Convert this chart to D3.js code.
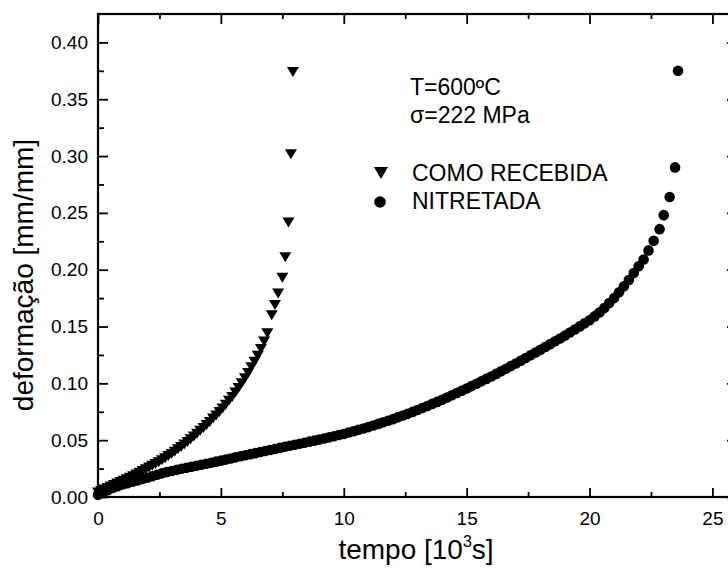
<!DOCTYPE html>
<html>
<head>
<meta charset="utf-8">
<script src="https://cdn.jsdelivr.net/npm/d3@7"></script>
<style>
  body { margin: 0; background: #fff; }
  text { font-family: "Liberation Sans", Arial, sans-serif; fill: #000; }
</style>
</head>
<body>
<div id="chart"></div>
<script>
// tick values
var xTicks = [0, 5, 10, 15, 20, 25];
var xMinor = [2.5, 7.5, 12.5, 17.5, 22.5];
var yTicks = [0.00, 0.05, 0.10, 0.15, 0.20, 0.25, 0.30, 0.35, 0.40];
var yMinor = [0.025, 0.075, 0.125, 0.175, 0.225, 0.275, 0.325, 0.375];

// COMO RECEBIDA (tempo in 10^3 s, deformacao mm/mm)
var recebidaTempo = [0, 0.13, 0.26, 0.39, 0.52, 0.65, 0.78, 0.91, 1.04, 1.17,
  1.30, 1.43, 1.56, 1.69, 1.82, 1.95, 2.08, 2.21, 2.34, 2.47,
  2.60, 2.73, 2.86, 2.99, 3.12, 3.25, 3.38, 3.51, 3.64, 3.77,
  3.90, 4.03, 4.16, 4.29, 4.42, 4.55, 4.68, 4.81, 4.94, 5.07,
  5.20, 5.33, 5.46, 5.59, 5.72, 5.85, 5.98, 6.11, 6.24, 6.37,
  6.50, 6.63, 6.76, 6.89, 7.07, 7.20, 7.33, 7.50, 7.62, 7.75,
  7.85, 7.93];
var recebidaDef = [0.0040, 0.0053, 0.0066, 0.0079, 0.0092, 0.0105, 0.0118, 0.0131, 0.0144, 0.0157,
  0.0170, 0.0183, 0.0197, 0.0213, 0.0228, 0.0244, 0.0260, 0.0275, 0.0291, 0.0306,
  0.0324, 0.0342, 0.0360, 0.0379, 0.0399, 0.0420, 0.0441, 0.0462, 0.0485, 0.0509,
  0.0532, 0.0556, 0.0582, 0.0608, 0.0634, 0.0661, 0.0690, 0.0718, 0.0747, 0.0778,
  0.0812, 0.0846, 0.0880, 0.0919, 0.0960, 0.1002, 0.1044, 0.1092, 0.1141, 0.1191,
  0.1243, 0.1303, 0.1368, 0.1440, 0.1600, 0.1690, 0.1790, 0.1930, 0.2110, 0.2415,
  0.3016, 0.3740];

// NITRETADA
var nitretadaTempo = [0.0, 0.2, 0.4, 0.6, 0.8, 1.0, 1.2, 1.4, 1.6, 1.8,
  2.0, 2.2, 2.4, 2.6, 2.8, 3.0, 3.2, 3.4, 3.6, 3.8,
  4.0, 4.2, 4.4, 4.6, 4.8, 5.0, 5.2, 5.4, 5.6, 5.8,
  6.0, 6.2, 6.4, 6.6, 6.8, 7.0, 7.2, 7.4, 7.6, 7.8,
  8.0, 8.2, 8.4, 8.6, 8.8, 9.0, 9.2, 9.4, 9.6, 9.8,
  10.0, 10.2, 10.4, 10.6, 10.8, 11.0, 11.2, 11.4, 11.6, 11.8,
  12.0, 12.2, 12.4, 12.6, 12.8, 13.0, 13.2, 13.4, 13.6, 13.8,
  14.0, 14.2, 14.4, 14.6, 14.8, 15.0, 15.2, 15.4, 15.6, 15.8,
  16.0, 16.2, 16.4, 16.6, 16.8, 17.0, 17.2, 17.4, 17.6, 17.8,
  18.0, 18.2, 18.4, 18.6, 18.8, 19.0, 19.2, 19.4, 19.6, 19.8,
  20.0, 20.2, 20.4, 20.6, 20.8, 21.0, 21.2, 21.4, 21.6, 21.8,
  22.0, 22.2, 22.4, 22.61, 22.85, 23.02, 23.26, 23.48, 23.6];
var nitretadaDef = [0.0020, 0.0040, 0.0060, 0.0080, 0.0095, 0.0110, 0.0122, 0.0134, 0.0146, 0.0158,
  0.0170, 0.0183, 0.0196, 0.0208, 0.0219, 0.0229, 0.0239, 0.0248, 0.0257, 0.0266,
  0.0275, 0.0284, 0.0293, 0.0302, 0.0311, 0.0320, 0.0329, 0.0339, 0.0349, 0.0358,
  0.0368, 0.0377, 0.0386, 0.0396, 0.0405, 0.0414, 0.0423, 0.0432, 0.0442, 0.0451,
  0.0460, 0.0469, 0.0478, 0.0487, 0.0496, 0.0505, 0.0515, 0.0525, 0.0535, 0.0545,
  0.0555, 0.0567, 0.0579, 0.0591, 0.0603, 0.0615, 0.0629, 0.0643, 0.0657, 0.0671,
  0.0685, 0.0701, 0.0717, 0.0733, 0.0749, 0.0765, 0.0783, 0.0801, 0.0819, 0.0837,
  0.0855, 0.0875, 0.0895, 0.0915, 0.0935, 0.0955, 0.0976, 0.0997, 0.1018, 0.1039,
  0.1060, 0.1083, 0.1106, 0.1129, 0.1152, 0.1175, 0.1199, 0.1223, 0.1247, 0.1271,
  0.1295, 0.1320, 0.1345, 0.1370, 0.1395, 0.1420, 0.1447, 0.1474, 0.1501, 0.1528,
  0.1555, 0.1589, 0.1623, 0.1662, 0.1706, 0.1750, 0.1802, 0.1854, 0.1910, 0.1970,
  0.2030, 0.2090, 0.2170, 0.2254, 0.2357, 0.2480, 0.2640, 0.2900, 0.3750];

var width = 728;
var height = 576;

// plot box
var boxLeft = 98, boxTop = 14, boxRight = 737, boxBottom = 497;

var svg = d3.select("#chart")
  .append("svg")
  .attr("width", width)
  .attr("height", height);

var x_Scale = d3.scaleLinear().domain([0, 26]).range([boxLeft, boxRight]);
var y_Scale = d3.scaleLinear().domain([0, 0.425]).range([boxBottom, boxTop]);

// bottom axis
svg.append("g")
  .attr("transform", "translate(0," + boxBottom + ")")
  .call(d3.axisBottom(x_Scale).tickValues(xTicks).tickSize(-9).tickPadding(15)
    .tickFormat(d3.format("d")))
  .attr("class", "axis");
svg.append("g")
  .attr("transform", "translate(0," + boxBottom + ")")
  .call(d3.axisBottom(x_Scale).tickValues(xMinor).tickSize(-5).tickFormat(""))
  .attr("class", "axis");

// top axis
svg.append("g")
  .attr("transform", "translate(0," + boxTop + ")")
  .call(d3.axisTop(x_Scale).tickValues(xTicks).tickSize(-10).tickFormat(""))
  .attr("class", "axis");
svg.append("g")
  .attr("transform", "translate(0," + boxTop + ")")
  .call(d3.axisTop(x_Scale).tickValues(xMinor).tickSize(-5).tickFormat(""))
  .attr("class", "axis");

// left axis
svg.append("g")
  .attr("transform", "translate(" + boxLeft + ",0)")
  .call(d3.axisLeft(y_Scale).tickValues(yTicks).tickSize(-10).tickPadding(10)
    .tickFormat(d3.format(".2f")))
  .attr("class", "axis");
svg.append("g")
  .attr("transform", "translate(" + boxLeft + ",0)")
  .call(d3.axisLeft(y_Scale).tickValues(yMinor).tickSize(-6).tickFormat(""))
  .attr("class", "axis");

// right axis
svg.append("g")
  .attr("transform", "translate(" + boxRight + ",0)")
  .call(d3.axisRight(y_Scale).tickValues(yTicks).tickSize(-10).tickFormat(""))
  .attr("class", "axis");
svg.append("g")
  .attr("transform", "translate(" + boxRight + ",0)")
  .call(d3.axisRight(y_Scale).tickValues(yMinor).tickSize(-6).tickFormat(""))
  .attr("class", "axis");

svg.selectAll(".axis .domain").remove();
svg.selectAll(".axis line").attr("stroke", "#000").attr("stroke-width", 1.8);
svg.selectAll(".axis text")
  .style("font-family", "'Liberation Sans', Arial, sans-serif")
  .style("font-size", "19px")
  .attr("fill", "#000");

// frame
svg.append("rect")
  .attr("x", boxLeft)
  .attr("y", boxTop)
  .attr("width", boxRight - boxLeft)
  .attr("height", boxBottom - boxTop)
  .attr("fill", "none")
  .attr("stroke", "#000")
  .attr("stroke-width", 2.2);

// axis titles
var x_Title = svg.append("text")
  .attr("x", 416)
  .attr("y", 559)
  .attr("text-anchor", "middle")
  .style("font-size", "28px");
x_Title.append("tspan").text("tempo [10");
x_Title.append("tspan").attr("dy", -12).style("font-size", "16px").text("3");
x_Title.append("tspan").attr("dy", 12).text("s]");

svg.append("text")
  .attr("transform", "translate(33,275)rotate(-90)")
  .attr("text-anchor", "middle")
  .style("font-size", "28px")
  .text("deformação [mm/mm]");

// markers
var triPath = "M-6,-5L6,-5L0,5Z";

var recebida = recebidaTempo.map(function(t, i) { return [t, recebidaDef[i]]; });
var nitretada = nitretadaTempo.map(function(t, i) { return [t, nitretadaDef[i]]; });

svg.append("g")
  .selectAll("path")
  .data(recebida)
  .enter()
  .append("path")
  .attr("d", triPath)
  .attr("transform", function(d) {
    return "translate(" + x_Scale(d[0]) + "," + y_Scale(d[1]) + ")";
  })
  .attr("fill", "#000");

svg.append("g")
  .selectAll("circle")
  .data(nitretada)
  .enter()
  .append("circle")
  .attr("cx", function(d) { return x_Scale(d[0]); })
  .attr("cy", function(d) { return y_Scale(d[1]); })
  .attr("r", 5.3)
  .attr("fill", "#000");

// annotation and legend
svg.append("text").attr("x", 410).attr("y", 95).style("font-size", "23px").text("T=600ºC");
svg.append("text").attr("x", 410).attr("y", 123).style("font-size", "23px").text("σ=222 MPa");

svg.append("path")
  .attr("d", "M-7,-6L7,-6L0,6Z")
  .attr("transform", "translate(381,173)")
  .attr("fill", "#000");
svg.append("text").attr("x", 412).attr("y", 181).style("font-size", "23px").text("COMO RECEBIDA");

svg.append("circle").attr("cx", 380).attr("cy", 202).attr("r", 5.8).attr("fill", "#000");
svg.append("text").attr("x", 412).attr("y", 209).style("font-size", "23px").text("NITRETADA");
</script>
</body>
</html>
